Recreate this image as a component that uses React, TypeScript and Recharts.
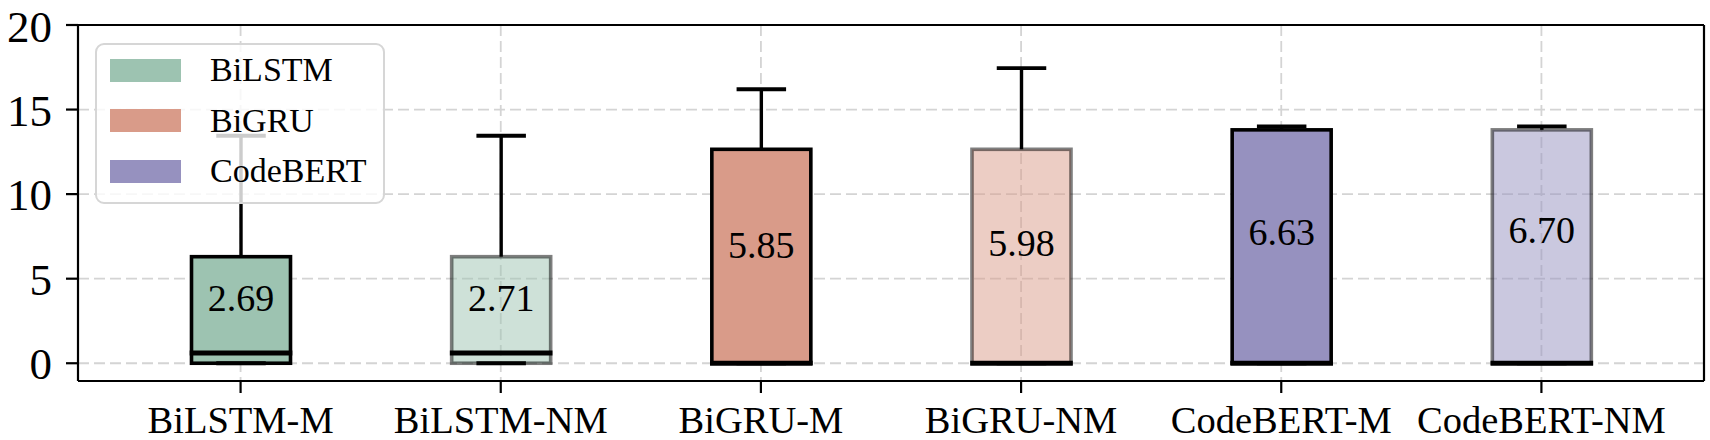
import React from "react";
import { ComposedChart, Bar, Line, XAxis, YAxis, CartesianGrid } from "recharts";

// box plot stats
const categories = ["BiLSTM-M", "BiLSTM-NM", "BiGRU-M", "BiGRU-NM", "CodeBERT-M", "CodeBERT-NM"];
const lowerWhisker = [0, 0, 0, 0, 0, 0];
const q1Values = [0, 0, 0, 0, 0, 0];
const medianValues = [0.6, 0.6, 0, 0, 0, 0];
const q3Values = [6.3, 6.3, 12.65, 12.65, 13.8, 13.8];
const upperWhisker = [13.45, 13.45, 16.2, 17.45, 14.0, 14.0];
const meanValues = [2.69, 2.71, 5.85, 5.98, 6.63, 6.7];

const models = ["BiLSTM", "BiGRU", "CodeBERT"];
const modelColors = ["#9dc3b1", "#d99b89", "#9691bf"];
const yTicks = [0, 5, 10, 15, 20];

const FONT = "'Liberation Serif', 'Times New Roman', serif";

const rows = categories.map((name, i) => ({
  name,
  lo: lowerWhisker[i],
  q1: q1Values[i],
  med: medianValues[i],
  q3: q3Values[i],
  hi: upperWhisker[i],
  mean: meanValues[i],
  color: modelColors[Math.floor(i / 2)],
  faded: name.endsWith("-NM"),
}));

const BoxShape = (props: any) => {
  const { x, y, width, height, payload } = props;
  const d = payload;
  const top = Math.min(y, y + height);
  const bottom = Math.max(y, y + height);
  const ppu = (bottom - top) / (d.q3 - d.q1);
  const toY = (v: number) => bottom - (v - d.q1) * ppu;
  const cx = x + width / 2;
  const capW = width / 2;
  const edge = d.faded ? "rgba(0,0,0,0.5)" : "#000";
  return (
    <g>
      <rect
        x={x}
        y={top}
        width={width}
        height={bottom - top}
        fill={d.color}
        fillOpacity={d.faded ? 0.5 : 1}
        stroke={edge}
        strokeWidth={3.6}
      />
      <line x1={cx} x2={cx} y1={toY(d.q3)} y2={toY(d.hi)} stroke="#000" strokeWidth={3.4} />
      <line x1={cx} x2={cx} y1={toY(d.q1)} y2={toY(d.lo)} stroke="#000" strokeWidth={3.4} />
      <line x1={cx - capW / 2} x2={cx + capW / 2} y1={toY(d.hi)} y2={toY(d.hi)} stroke="#000" strokeWidth={3.8} />
      <line x1={cx - capW / 2} x2={cx + capW / 2} y1={toY(d.lo)} y2={toY(d.lo)} stroke="#000" strokeWidth={3.8} />
      <line x1={x - 1.8} x2={x + width + 1.8} y1={toY(d.med)} y2={toY(d.med)} stroke="#000" strokeWidth={5} />
      <text
        x={cx}
        y={toY(d.mean) - 19.5}
        textAnchor="middle"
        dominantBaseline="central"
        fontFamily={FONT}
        fontSize={38}
        fill="#000"
      >
        {d.mean.toFixed(2)}
      </text>
    </g>
  );
};

const LegendBox = () => (
  <div
    style={{
      position: "absolute",
      left: 95,
      top: 43,
      width: 290,
      height: 161,
      boxSizing: "border-box",
      border: "2.5px solid #d6d6d6",
      borderRadius: 9,
      background: "rgba(255,255,255,0.8)",
      fontFamily: FONT,
      fontSize: 34,
    }}
  >
    {models.map((m, i) => (
      <div key={m} style={{ position: "absolute", left: 13, top: 13 + i * 50.5, height: 24, display: "flex", alignItems: "center" }}>
        <div style={{ width: 71, height: 23, background: modelColors[i] }} />
        <span style={{ marginLeft: 29, lineHeight: "24px", color: "#000" }}>{m}</span>
      </div>
    ))}
  </div>
);

export default function App() {
  return (
    <div style={{ position: "absolute", left: 0, top: 0, width: 1710, height: 440, background: "#fff" }}>
      <ComposedChart width={1710} height={440} data={rows} margin={{ top: 24, right: 5, bottom: 0, left: 0 }}>
        <CartesianGrid stroke="#d4d4d4" strokeWidth={1.8} strokeDasharray="11 5" />
        <XAxis
          dataKey="name"
          padding={{ left: 32.5, right: 32.5 }}
          height={59}
          tickSize={12}
          tickMargin={13}
          interval={0}
          axisLine={{ stroke: "#000", strokeWidth: 2.2 }}
          tickLine={{ stroke: "#000", strokeWidth: 2.2 }}
          tick={{ fill: "#000", fontSize: 38.5, fontFamily: FONT }}
        />
        <XAxis
          xAxisId="top"
          dataKey="name"
          orientation="top"
          height={1}
          tick={false}
          tickLine={false}
          axisLine={{ stroke: "#000", strokeWidth: 2.2 }}
        />
        <YAxis
          type="number"
          domain={[-1.05, 20]}
          ticks={yTicks}
          width={78}
          tickSize={12}
          tickMargin={14}
          axisLine={{ stroke: "#000", strokeWidth: 2.2 }}
          tickLine={{ stroke: "#000", strokeWidth: 2.2 }}
          tick={{ fill: "#000", fontSize: 45, fontFamily: FONT }}
        />
        <YAxis
          yAxisId="right"
          orientation="right"
          type="number"
          domain={[-1.05, 20]}
          width={1}
          tick={false}
          tickLine={false}
          axisLine={{ stroke: "#000", strokeWidth: 2.2 }}
        />
        <Bar
          dataKey={(d: any) => [d.q1, d.q3]}
          barSize={99}
          shape={<BoxShape />}
          isAnimationActive={false}
        />
        {/* invisible series so the frame axes (top / right) get drawn */}
        <Line
          xAxisId="top"
          yAxisId="right"
          dataKey="q3"
          stroke="none"
          dot={false}
          activeDot={false}
          isAnimationActive={false}
        />
      </ComposedChart>
      <LegendBox />
    </div>
  );
}
